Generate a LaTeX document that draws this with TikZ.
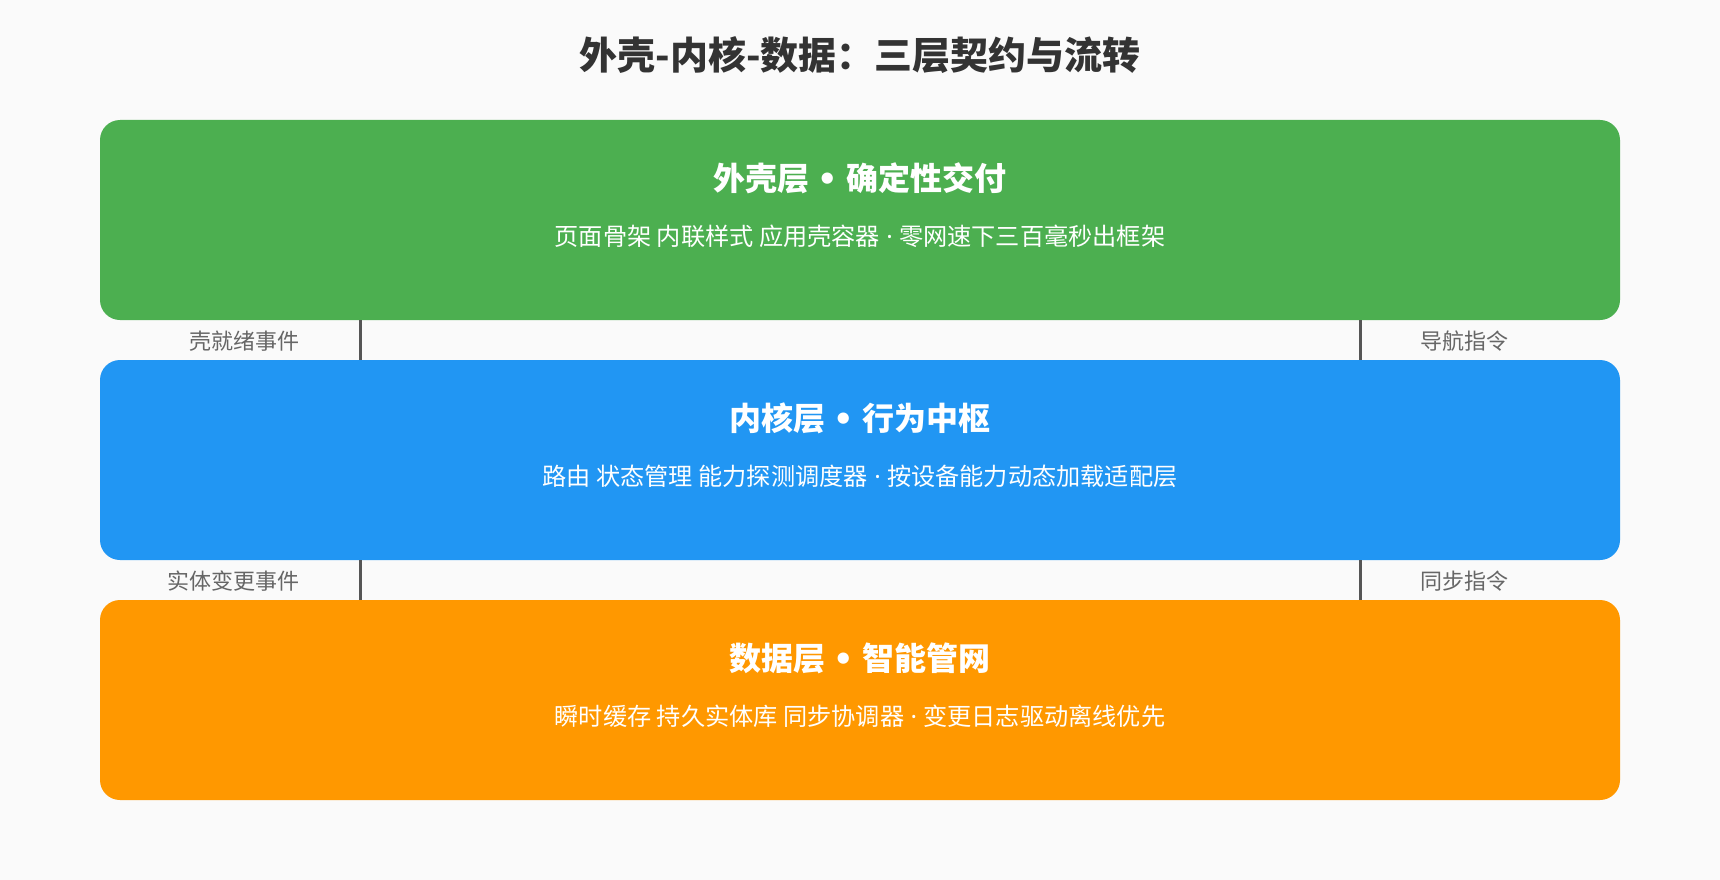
\documentclass[tikz,border=0pt]{standalone}
\usepackage{fontspec}
\setmainfont{Noto Sans CJK SC}
\newfontfamily\latinf{Noto Sans}
\newfontfamily\dejaf{DejaVu Sans}
\definecolor{bgc}{HTML}{FAFAFA}
\definecolor{shellc}{HTML}{4CAF50}
\definecolor{corec}{HTML}{2196F3}
\definecolor{datac}{HTML}{FF9800}
\definecolor{titlec}{HTML}{333333}
\definecolor{labelc}{HTML}{666666}
\definecolor{linec}{HTML}{555555}
\newcommand{\bul}{{\latinf\bfseries\ }{\dejaf\bfseries •}{\latinf\bfseries\ }}
\newcommand{\mdot}{{\latinf\ ·\ }}
\begin{document}
\begin{tikzpicture}[x=1pt,y=-1pt,
  layer/.style={fill=#1, draw=none, rounded corners=20pt, minimum width=1520pt, minimum height=200pt, inner sep=0pt},
  maintitle/.style={inner sep=0pt, text=titlec, font=\fontsize{38}{44}\selectfont\bfseries},
  layertitle/.style={inner sep=0pt, text=white, font=\fontsize{32}{38}\selectfont\bfseries},
  layersub/.style={inner sep=0pt, text=white, font=\fontsize{24.2}{30}\selectfont},
  lbl/.style={inner sep=0pt, text=labelc, font=\fontsize{22}{26}\selectfont},
  conn/.style={draw=linec, line width=3pt}]
\fill[bgc] (0,0) rectangle (1720,880);
\useasboundingbox (0,0) rectangle (1720,880);
\node[maintitle] (title) at (860,55) {外壳-内核-数据：三层契约与流转};
\node[layer=shellc] (shell) at (860,220) {};
\node[layer=corec] (core) at (860,460) {};
\node[layer=datac] (data) at (860,700) {};
\node[layertitle] (shellT) at (860,178) {外壳层\bul 确定性交付};
\node[layersub] (shellS) at (860,236) {页面骨架 内联样式 应用壳容器\mdot 零网速下三百毫秒出框架};
\node[layertitle] (coreT) at (860,418) {内核层\bul 行为中枢};
\node[layersub] (coreS) at (860,476) {路由 状态管理 能力探测调度器\mdot 按设备能力动态加载适配层};
\node[layertitle] (dataT) at (860,658) {数据层\bul 智能管网};
\node[layersub] (dataS) at (860,716) {瞬时缓存 持久实体库 同步协调器\mdot 变更日志驱动离线优先};
\coordinate (cl) at (360,0);
\coordinate (cr) at (1360,0);
\draw[conn] (shell.south -| cl) -- (core.north -| cl);
\draw[conn] (shell.south -| cr) -- (core.north -| cr);
\draw[conn] (core.south -| cl) -- (data.north -| cl);
\draw[conn] (core.south -| cr) -- (data.north -| cr);
\node[lbl, anchor=east] (l1) at (300,341) {壳就绪事件};
\node[lbl, anchor=west] (r1) at (1420,341) {导航指令};
\node[lbl, anchor=east] (l2) at (300,581) {实体变更事件};
\node[lbl, anchor=west] (r2) at (1420,581) {同步指令};
\end{tikzpicture}
\end{document}
